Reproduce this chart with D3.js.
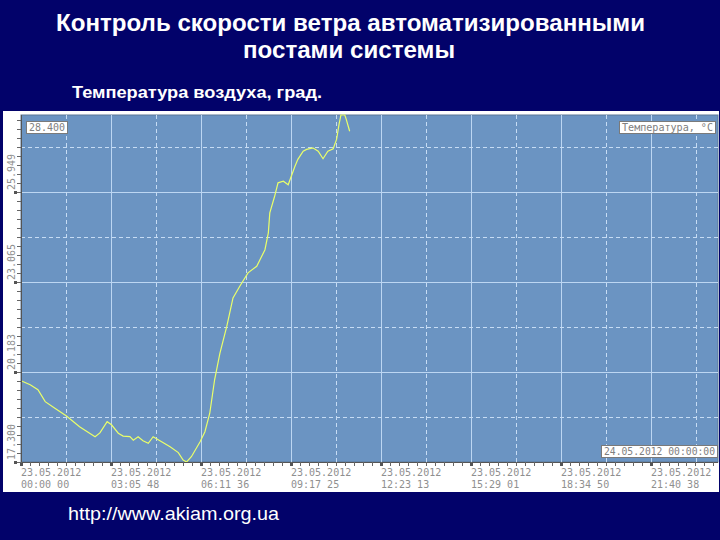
<!DOCTYPE html>
<html><head><meta charset="utf-8">
<script src="https://cdn.jsdelivr.net/npm/d3@7"></script>
<style>html,body{margin:0;padding:0;background:#02026a;}svg{display:block;}</style>
</head><body>
<script>
const times = ["00:00","00:19","00:35","00:50","01:10","01:34","02:01","02:33","02:43","02:58","03:07","03:21","03:31","03:45","03:52","04:02","04:12","04:23","04:33","04:47","05:08","05:25","05:35","05:42","05:52","06:10","06:20","06:30","06:40","06:51","07:05","07:18","07:32","07:49","08:07","08:24","08:31","08:34","08:44","08:51","09:02","09:12","09:26","09:32","09:43","09:50","10:03","10:14","10:24","10:34","10:45","10:52","10:57","11:01","11:09","11:12","11:19"];
const temps = [19.90,19.77,19.61,19.23,19.02,18.77,18.43,18.11,18.23,18.59,18.49,18.22,18.13,18.11,18.00,18.11,17.98,17.90,18.11,17.98,17.79,17.60,17.36,17.30,17.47,17.95,18.27,18.86,19.93,20.78,21.63,22.55,22.92,23.35,23.56,24.09,24.63,25.27,25.80,26.23,26.28,26.17,26.76,26.98,27.24,27.30,27.35,27.24,27.00,27.24,27.32,27.62,28.10,28.40,28.40,28.26,27.88];
const yTickValues = [17.300, 20.183, 23.065, 25.949];
const yTickLabels = ["17.300", "20.183", "23.065", "25.949"];
const xTickSeconds = [0, 11148, 22296, 33445, 44593, 55741, 66890, 78038];
const xTickDates = ["23.05.2012","23.05.2012","23.05.2012","23.05.2012","23.05.2012","23.05.2012","23.05.2012","23.05.2012"];
const xTickTimes = ["00:00 00","03:05 48","06:11 36","09:17 25","12:23 13","15:29 01","18:34 50","21:40 38"];
const yMax = 28.400, yMin = 17.300, tEnd = 86400;
const titleLines = ["Контроль скорости ветра автоматизированными", "постами системы"];
const subtitle = "Температура воздуха, град.";
const seriesName = "Температура, °C";
const endLabel = "24.05.2012 00:00:00";
const url = "http://www.akiam.org.ua";

const W = 720, H = 540;
const L = 21, R = 718, T = 115, B = 462;
const svg = d3.select("body").append("svg").attr("width", W).attr("height", H);
svg.append("rect").attr("width", W).attr("height", H).attr("fill", "#02026a");

function fitText(sel, w) { sel.attr("textLength", w).attr("lengthAdjust", "spacingAndGlyphs"); }
const tf = "'Liberation Sans', Arial, sans-serif";
fitText(svg.append("text").attr("x", 56).attr("y", 31).attr("fill", "#fff").attr("font-family", tf).attr("font-weight", "bold").attr("font-size", 23).text(titleLines[0]), 589);
fitText(svg.append("text").attr("x", 243).attr("y", 58).attr("fill", "#fff").attr("font-family", tf).attr("font-weight", "bold").attr("font-size", 23).text(titleLines[1]), 212);
fitText(svg.append("text").attr("x", 72).attr("y", 98).attr("fill", "#fff").attr("font-family", tf).attr("font-weight", "bold").attr("font-size", 16).text(subtitle), 250);
fitText(svg.append("text").attr("x", 68).attr("y", 520).attr("fill", "#fff").attr("font-family", tf).attr("font-size", 19).text(url), 211);

// white panel
svg.append("rect").attr("x", 3).attr("y", 111).attr("width", 716).attr("height", 381).attr("fill", "#ffffff");

const x = d3.scaleLinear().domain([0, tEnd]).range([L, R]);
const y = d3.scaleLinear().domain([yMin, yMax]).range([B, T]).clamp(true);

svg.append("rect").attr("x", L).attr("y", T).attr("width", R - L).attr("height", B - T).attr("fill", "#6b94c2").attr("stroke", "#5d7897").attr("stroke-width", 1);

const grid = svg.append("g");
const xStep = xTickSeconds[1] - xTickSeconds[0];
const yStep = yTickValues[1] - yTickValues[0];
// solid grid
xTickSeconds.slice(1).forEach(s => grid.append("line").attr("x1", Math.round(x(s)) + 0.5).attr("x2", Math.round(x(s)) + 0.5).attr("y1", T).attr("y2", B).attr("stroke", "#bcd6f2").attr("stroke-width", 1));
yTickValues.slice(1).forEach(v => grid.append("line").attr("y1", Math.round(y(v)) + 0.5).attr("y2", Math.round(y(v)) + 0.5).attr("x1", L).attr("x2", R).attr("stroke", "#bcd6f2").attr("stroke-width", 1));
// dashed grid
xTickSeconds.forEach(s => { const m = s + xStep / 2; if (m < tEnd) grid.append("line").attr("x1", Math.round(x(m)) + 0.5).attr("x2", Math.round(x(m)) + 0.5).attr("y1", T).attr("y2", B).attr("stroke", "#c6dcf4").attr("stroke-dasharray", "4,3"); });
yTickValues.forEach(v => { const m = v + yStep / 2; if (m < yMax) grid.append("line").attr("y1", Math.round(y(m)) + 0.5).attr("y2", Math.round(y(m)) + 0.5).attr("x1", L).attr("x2", R).attr("stroke", "#c6dcf4").attr("stroke-dasharray", "4,3"); });

// curve
const pts = times.map((t, i) => { const p = t.split(":"); return [(+p[0]) * 3600 + (+p[1]) * 60, temps[i]]; });
svg.append("path").datum(pts).attr("fill", "none").attr("stroke", "#eaff6a").attr("stroke-width", 1.2)
  .attr("d", d3.line().x(d => x(d[0])).y(d => y(d[1])));

// axes lines
svg.append("line").attr("x1", L + 0.5).attr("x2", L + 0.5).attr("y1", T).attr("y2", B + 1).attr("stroke", "#555");
svg.append("line").attr("x1", L).attr("x2", R).attr("y1", B + 0.5).attr("y2", B + 0.5).attr("stroke", "#555");

// x axis minor ticks
const xMinor = d3.range(0, tEnd, xStep / 10);
svg.append("g").selectAll("line").data(xMinor).join("line")
  .attr("x1", d => Math.round(x(d)) + 0.5).attr("x2", d => Math.round(x(d)) + 0.5)
  .attr("y1", B).attr("y2", B + 4).attr("stroke", "#666");
svg.append("g").selectAll("rect").data(xTickSeconds).join("rect")
  .attr("x", d => Math.round(x(d)) - 1).attr("y", B + 1).attr("width", 3).attr("height", 3).attr("fill", "#555");
// y axis minor ticks
const yMinor = d3.range(yMin, yMax, yStep / 10);
svg.append("g").selectAll("line").data(yMinor).join("line")
  .attr("y1", d => Math.round(y(d)) + 0.5).attr("y2", d => Math.round(y(d)) + 0.5)
  .attr("x1", L - 4).attr("x2", L).attr("stroke", "#666");
svg.append("g").selectAll("rect").data(yTickValues).join("rect")
  .attr("y", d => Math.round(y(d)) - 1).attr("x", 14).attr("width", 3).attr("height", 3).attr("fill", "#555");

const mf = "'DejaVu Sans Mono', monospace";
// x labels
const xl = svg.append("g").attr("font-family", mf).attr("font-size", 10).attr("fill", "#8f8f8f");
xTickSeconds.forEach((s, i) => {
  xl.append("text").attr("x", Math.round(x(s))).attr("y", 476).text(xTickDates[i]);
  xl.append("text").attr("x", Math.round(x(s))).attr("y", 488).text(xTickTimes[i]);
});
// y labels
const yl = svg.append("g").attr("font-family", mf).attr("font-size", 10).attr("fill", "#8f8f8f");
yTickValues.forEach((v, i) => {
  const yy = Math.round(y(v)) - 2;
  yl.append("text").attr("transform", `translate(14.5,${yy}) rotate(-90)`).attr("text-anchor", "start").text(yTickLabels[i]);
});

// boxed labels
function box(txt, x0, y0, w) {
  svg.append("rect").attr("x", x0 + 0.5).attr("y", y0 + 0.5).attr("width", w).attr("height", 12).attr("fill", "#fff").attr("stroke", "#7a7a7a");
  const t = svg.append("text").attr("x", x0 + 3).attr("y", y0 + 10).attr("font-family", mf).attr("font-size", 10).attr("fill", "#808080").text(txt);
  fitText(t, w - 5);
}
box(d3.format(".3f")(yMax), 26, 121, 41);
box(seriesName, 619, 121, 96);
box(endLabel, 601, 445, 116);
</script>
</body></html>
